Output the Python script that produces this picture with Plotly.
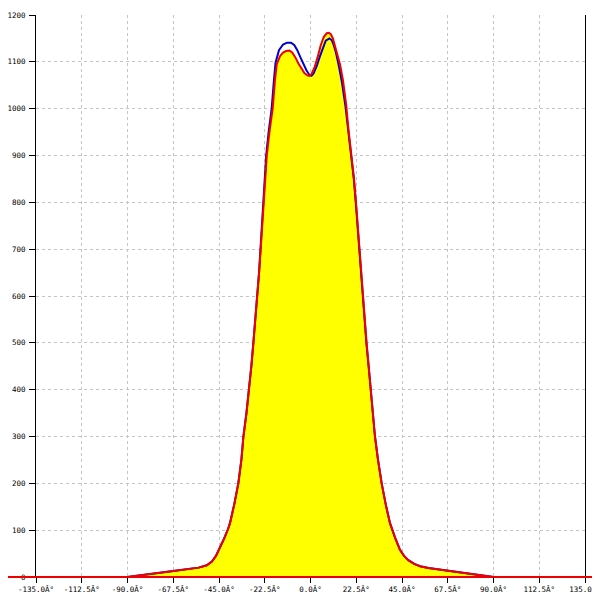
import plotly.graph_objects as go

# Angle values (degrees) and intensities
x_red = [-135, -90, -67.5, -60, -55, -51, -48.5, -46.5, -44.5, -42.5, -40.5, -39.6,
         -37.5, -35.5, -34, -33, -31.5, -30.2, -29.1, -28.1, -27.1, -26.2, -25.3,
         -24.5, -23.8, -23.2, -22.4, -21.5, -20.2, -18.6, -17.5, -16.6, -15, -13.5,
         -12, -10.4, -9, -7.5, -6, -4.5, -3, -1.5, -0.5, 0.5, 2, 3.5, 5, 6.5, 8, 9,
         10, 11, 12, 13, 14.5, 16, 17.5, 18.8, 20.3, 21.4, 22.4, 23.2, 24.0, 24.9,
         25.7, 26.6, 27.6, 28.6, 29.6, 30.6, 31.7, 33.2, 35.0, 37, 39.1, 41.5, 44.0,
         46, 48.1, 51, 53.9, 58, 62.9, 67.5, 90, 135]
y_red = [0, 0, 13, 17, 20, 25, 33, 45, 62, 82, 103, 115,
         155, 200, 250, 300, 350, 400, 450, 500, 550, 600, 650,
         700, 750, 800, 850, 900, 950, 1000, 1060, 1095, 1112, 1120,
         1123, 1124, 1120, 1110, 1097, 1085, 1076, 1071, 1070, 1074, 1088, 1110, 1135, 1153, 1161, 1162,
         1159, 1150, 1135, 1118, 1095, 1060, 1010, 950, 897, 850, 798, 750, 698, 650,
         598, 550, 499, 450, 399, 350, 300, 250, 200, 155, 115, 85, 58,
         45, 36, 28, 23, 19, 16, 13, 0, 0]

x_blue = [-135, -90, -67.5, -60, -55, -51, -48.5, -46.5, -44.5, -42.5, -40.5, -39.6,
          -37.5, -35.5, -34, -33, -31.5, -30.2, -29.1, -28.1, -27.1, -26.2, -25.3,
          -24.6, -23.9, -23.4, -22.7, -21.8, -20.6, -19.1, -18, -17.2, -15.5, -13.5,
          -11.5, -9.6, -8, -6.5, -5, -3.5, -2, -0.5, 0.5, 1.5, 3, 4.5, 6, 7.5, 9.3,
          10.5, 11.5, 12.5, 14, 15.5, 17.2, 18.6, 20.2, 21.3, 22.3, 23.1, 23.9, 24.8,
          25.6, 26.5, 27.5, 28.6, 29.6, 30.6, 31.7, 33.2, 35.0, 37, 39.1, 41.5, 44.0,
          46, 48.1, 51, 53.9, 58, 62.9, 67.5, 90, 135]
y_blue = [0, 0, 13, 17, 20, 25, 33, 45, 62, 82, 103, 115,
          155, 200, 250, 300, 350, 400, 450, 500, 550, 600, 650,
          700, 750, 800, 850, 900, 950, 1000, 1060, 1098, 1125, 1137,
          1141, 1141, 1136, 1125, 1110, 1095, 1082, 1072, 1070, 1075, 1090, 1110, 1130, 1145, 1150,
          1146, 1135, 1120, 1090, 1055, 1005, 950, 897, 850, 798, 750, 698, 650,
          598, 550, 499, 450, 399, 350, 300, 250, 200, 155, 115, 85, 58,
          45, 36, 28, 23, 19, 16, 13, 0, 0]

x_ticks = [-135, -112.5, -90, -67.5, -45, -22.5, 0, 22.5, 45, 67.5, 90, 112.5, 135]
x_tick_text = ["-135.0Â°", "-112.5Â°", "-90.0Â°", "-67.5Â°", "-45.0Â°", "-22.5Â°", "0.0Â°",
               "22.5Â°", "45.0Â°", "67.5Â°", "90.0Â°", "112.5Â°", "135.0Â°"]
y_ticks = [0, 100, 200, 300, 400, 500, 600, 700, 800, 900, 1000, 1100, 1200]

fig = go.Figure()
fig.add_trace(go.Scatter(x=x_red, y=y_red, mode="lines", line=dict(width=0, color="rgba(0,0,0,0)"),
                         fill="tozeroy", fillcolor="#ffff00", hoverinfo="skip", showlegend=False))
fig.add_trace(go.Scatter(x=x_blue, y=y_blue, mode="lines", line=dict(color="#0000cc", width=2),
                         showlegend=False))
fig.add_trace(go.Scatter(x=x_red, y=y_red, mode="lines", line=dict(color="#ee0000", width=2),
                         showlegend=False))

# red baseline running across the full width (beyond the plot area)
fig.add_shape(type="line", xref="paper", yref="paper", x0=-0.06, x1=1.04, y0=0, y1=0,
              line=dict(color="#ee0000", width=2), layer="above")

tickfont = dict(family="DejaVu Sans Mono, Liberation Mono, monospace", size=7.5, color="black")
fig.update_layout(
    width=592, height=592,
    margin=dict(l=28, r=15, t=7, b=23),
    paper_bgcolor="white", plot_bgcolor="white",
    showlegend=False,
    xaxis=dict(range=[-135, 135], tickvals=x_ticks, ticktext=x_tick_text, tickfont=tickfont,
               showgrid=True, gridcolor="#c4c4c4", griddash="3px,3px", gridwidth=1,
               zeroline=False, showline=False, automargin=False, ticklabeloverflow="allow",
               ticks="outside", ticklen=5, tickcolor="black"),
    yaxis=dict(range=[0, 1200], tickvals=y_ticks, tickfont=tickfont,
               showgrid=True, gridcolor="#c4c4c4", griddash="3px,3px", gridwidth=1,
               zeroline=False, showline=True, linecolor="black", linewidth=1,
               ticks="outside", ticklen=6, tickcolor="black", mirror=True,
               ticklabelstandoff=2, automargin=False, ticklabeloverflow="allow"),
)

fig.write_html("out.html")
